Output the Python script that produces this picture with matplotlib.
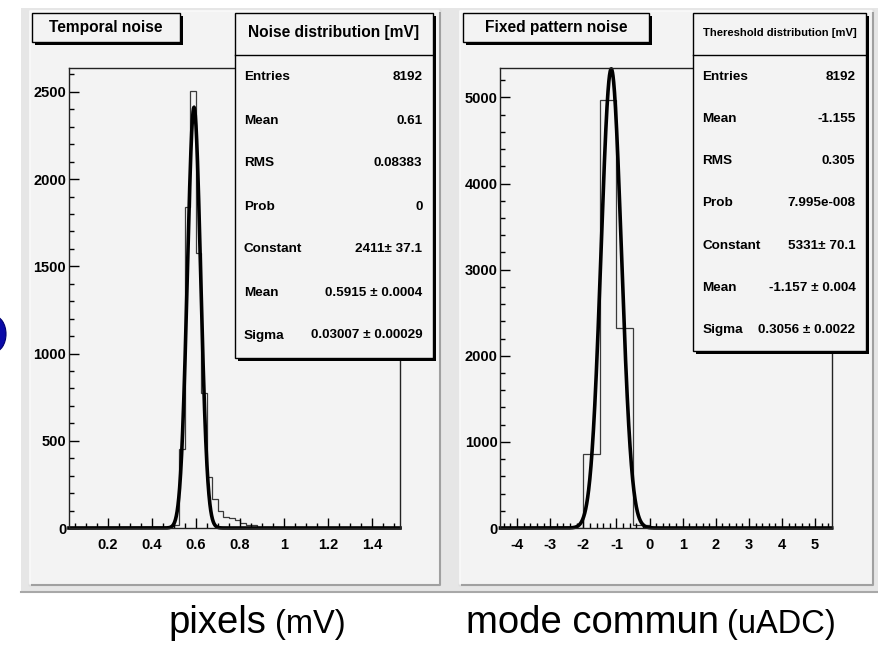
import numpy as np
import matplotlib
matplotlib.use("Agg")
import matplotlib.pyplot as plt
from matplotlib.patches import Rectangle, Ellipse
from matplotlib.ticker import MultipleLocator, FuncFormatter

# --- data ---
# temporal noise histogram (mV)
tn_first_edge = 0.475
tn_bin_width = 0.025
tn_counts = [0, 15, 453, 1840, 2507, 1577, 774, 290, 165, 99, 61, 55, 48,
             30, 17, 17, 8, 8, 6, 3, 2, 1, 1, 0]
tn_xlim = (0.025, 1.525)
tn_ymax = 2637
tn_fit = dict(const=2411, mean=0.5915, sigma=0.03007)
tn_stats = [("Entries", "8192"), ("Mean", "0.61"), ("RMS", "0.08383"),
            ("Prob", "0"), ("Constant", "2411\u00b1 37.1"),
            ("Mean", "0.5915 \u00b1 0.0004"), ("Sigma", "0.03007 \u00b1 0.00029")]

# fixed pattern noise histogram
fp_first_edge = -2.5
fp_bin_width = 0.5
fp_counts = [5, 855, 4970, 2326, 40, 1]
fp_xlim = (-4.5, 5.5)
fp_ymax = 5342
fp_fit = dict(const=5331, mean=-1.157, sigma=0.3056)
fp_stats = [("Entries", "8192"), ("Mean", "-1.155"), ("RMS", "0.305"),
            ("Prob", "7.995e-008"), ("Constant", "5331\u00b1 70.1"),
            ("Mean", "-1.157 \u00b1 0.004"), ("Sigma", "0.3056 \u00b1 0.0022")]

plt.rcParams['font.family'] = ['Liberation Sans', 'DejaVu Sans']
plt.rcParams['axes.unicode_minus'] = False

W, H = 879, 650
PAD = '#f3f3f3'
fig = plt.figure(figsize=(W / 100, H / 100), dpi=100)


def frac(x0, y0, x1, y1):
    # pixel box (top-left origin) -> figure fraction rect
    return [x0 / W, 1 - y1 / H, (x1 - x0) / W, (y1 - y0) / H]


# overlay axes in pixel coords
bg = fig.add_axes([0, 0, 1, 1], zorder=-5)
fg = fig.add_axes([0, 0, 1, 1], zorder=5)
for a in (bg, fg):
    a.set_xlim(0, W)
    a.set_ylim(H, 0)
    a.axis('off')
    a.patch.set_alpha(0)

# canvas and pads
bg.add_patch(Rectangle((21, 8), W - 21, 584, facecolor='#e6e6e6', edgecolor='none'))
bg.plot([21, W], [592, 592], color='#a8a8a8', lw=1.5)
for x0, x1 in [(30, 440), (460, 873)]:
    bg.add_patch(Rectangle((x0, 11), x1 - x0, 574, facecolor=PAD, edgecolor='none'))
    bg.plot([x1, x1, x0], [11, 585, 585], color='#a0a0a0', lw=1.5)
    bg.plot([x0, x0, x1], [585, 11, 11], color='#fafafa', lw=1.2)

# blue blob at the left edge
bg.add_patch(Ellipse((-6, 334), 24, 36, facecolor='#0a0aa8', edgecolor='#000070', lw=0.8,
                     clip_on=False))


def panel(rect, first_edge, width, counts, xlim, ymax, fit, xmajor, xminor, ymajor, yminor):
    ax = fig.add_axes(rect, zorder=1)
    ax.patch.set_alpha(0)
    edges = first_edge + width * np.arange(len(counts) + 1)
    ax.stairs(counts, edges, color='#3a3a3a', lw=0.9, baseline=0)
    xs = np.linspace(xlim[0], xlim[1], 2000)
    ys = fit['const'] * np.exp(-0.5 * ((xs - fit['mean']) / fit['sigma']) ** 2)
    ax.plot(xs, ys, color='black', lw=2.6, clip_on=False, solid_joinstyle='miter')
    ax.set_xlim(*xlim)
    ax.set_ylim(0, ymax)
    ax.xaxis.set_major_locator(MultipleLocator(xmajor))
    ax.xaxis.set_minor_locator(MultipleLocator(xminor))
    ax.yaxis.set_major_locator(MultipleLocator(ymajor))
    ax.yaxis.set_minor_locator(MultipleLocator(yminor))
    ax.xaxis.set_major_formatter(FuncFormatter(lambda v, p: f"{v:g}"))
    ax.yaxis.set_major_formatter(FuncFormatter(lambda v, p: f"{v:g}"))
    ax.tick_params(which='both', direction='in', top=False, right=False, width=1,
                   labelsize=10.5)
    ax.tick_params(which='major', length=7.2)
    ax.tick_params(which='minor', length=3.6)
    ax.tick_params(axis='x', pad=7)
    ax.tick_params(axis='y', pad=2)
    for lab in ax.get_xticklabels() + ax.get_yticklabels():
        lab.set_fontweight('bold')
    for s in ax.spines.values():
        s.set_linewidth(1)
        s.set_color('#222222')
    return ax


panel(frac(69, 68, 400, 528), tn_first_edge, tn_bin_width, tn_counts, tn_xlim,
      tn_ymax, tn_fit, 0.2, 0.05, 500, 100)
panel(frac(500.5, 68, 831.7, 528), fp_first_edge, fp_bin_width, fp_counts, fp_xlim,
      fp_ymax, fp_fit, 1, 0.2, 1000, 200)


def box(x0, y0, x1, y1, sh=3):
    fg.add_patch(Rectangle((x0 + sh, y0 + sh), x1 - x0, y1 - y0, facecolor='black',
                           edgecolor='none'))
    fg.add_patch(Rectangle((x0, y0), x1 - x0, y1 - y0, facecolor=PAD,
                           edgecolor='black', lw=1))


# title boxes
box(31.7, 13.3, 180, 41.7)
fg.text(106, 27.5, "Temporal noise", ha='center', va='center', fontsize=11.2,
        fontweight='bold')
box(463.3, 13.3, 649, 41.7)
fg.text(556, 27.5, "Fixed pattern noise", ha='center', va='center', fontsize=11.2,
        fontweight='bold')


def stats(x0, x1, y1, title, tsize, rows, row_y0, row_dy):
    box(x0, 12.7, x1, y1)
    fg.plot([x0, x1], [55, 55], color='black', lw=1)
    fg.text((x0 + x1) / 2, 33, title, ha='center', va='center', fontsize=tsize,
            fontweight='bold')
    for i, (k, v) in enumerate(rows):
        y = row_y0 + i * row_dy
        fg.text(x0 + 9, y, k, ha='left', va='center', fontsize=9.7, fontweight='bold')
        fg.text(x1 - 10.5, y, v, ha='right', va='center', fontsize=9.7, fontweight='bold')


stats(235, 433, 358, "Noise distribution [mV]", 11.2, tn_stats, 77.5, 43.0)
stats(693.3, 866, 351, "Thereshold distribution [mV]", 8.1, fp_stats, 76.5, 42.3)

# captions under the panels
fg.text(168, 633, "pixels", ha='left', va='baseline', fontsize=27.5)
fg.text(275, 633, "(mV)", ha='left', va='baseline', fontsize=23.5)
fg.text(466, 633, "mode commun", ha='left', va='baseline', fontsize=27.5)
fg.text(727, 633, "(uADC)", ha='left', va='baseline', fontsize=23.5)

fig.savefig("out.png", dpi=100)
